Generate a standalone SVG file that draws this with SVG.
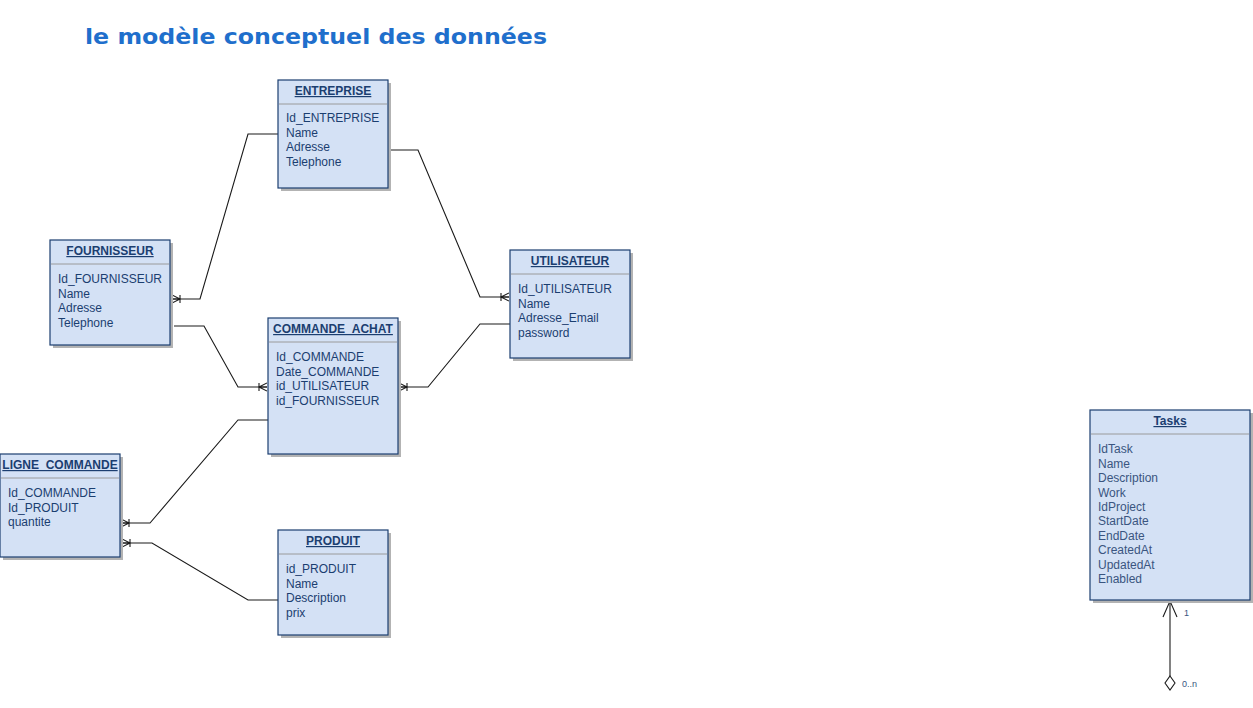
<svg xmlns="http://www.w3.org/2000/svg" width="1253" height="708" viewBox="0 0 1253 708">
<style>
.shadow{fill:#b3b3b3}
.box{fill:#d4e1f5;stroke:#1b3e70;stroke-width:1.2}
.sep{stroke:#9a9a9a;stroke-width:1}
.hdr{font-family:"Liberation Sans",Arial,sans-serif;font-size:12px;font-weight:bold;fill:#1b3e70;text-decoration:underline;text-anchor:middle}
.att{font-family:"Liberation Sans",Arial,sans-serif;font-size:12px;fill:#1b3e70}
.att2{font-family:"Liberation Sans",Arial,sans-serif;font-size:12px;fill:#3a5580}
.conn{fill:none;stroke:#1a1a1a;stroke-width:1.1}
.lbl{font-family:"Liberation Sans",Arial,sans-serif;font-size:9px;fill:#3a5580}
</style>
<defs>
<marker id="crow" viewBox="0 0 10 10" refX="10" refY="5" markerWidth="10" markerHeight="10" markerUnits="userSpaceOnUse" orient="auto">
<path d="M10,1 L2,5 L10,9 M2,5 H10 M2,1 V9" fill="none" stroke="#1a1a1a" stroke-width="1.1"/>
</marker>
</defs>
<rect width="1253" height="708" fill="#ffffff"/>
<text x="85" y="44" font-family="'DejaVu Sans',Verdana,sans-serif" font-size="22" font-weight="bold" fill="#1f6fcc" textLength="462" lengthAdjust="spacingAndGlyphs">le modèle conceptuel des données</text>

<g id="connectors">
<path class="conn" d="M278,134 H248 L200,299 H172" marker-end="url(#crow)"/>
<path class="conn" d="M388,150 H418 L480,297 H509" marker-end="url(#crow)"/>
<path class="conn" d="M174,326 H204 L238,387 H267" marker-end="url(#crow)"/>
<path class="conn" d="M510,324 H480 L428,387 H399" marker-end="url(#crow)"/>
<path class="conn" d="M268,420 H238 L150,523 H121" marker-end="url(#crow)"/>
<path class="conn" d="M278,600 H248 L152,543 H122" marker-end="url(#crow)"/>
<path class="conn" d="M1170,676 V601"/>
<path class="conn" d="M1163,617 L1170,601 L1177,617"/>
<path d="M1170,676 L1175,683 L1170,690 L1165,683 Z" fill="#ffffff" stroke="#1a1a1a" stroke-width="1.1"/>
<text class="lbl" x="1184" y="616">1</text>
<text class="lbl" x="1182" y="687">0..n</text>
</g>

<g id="entreprise">
<rect class="shadow" x="281" y="83" width="110" height="108"/>
<rect class="box" x="278" y="80" width="110" height="108"/>
<line class="sep" x1="279" y1="104" x2="387" y2="104"/>
<text class="hdr" x="333" y="95">ENTREPRISE</text>
<text class="att" x="286" y="122">Id_ENTREPRISE</text>
<text class="att" x="286" y="137">Name</text>
<text class="att" x="286" y="151">Adresse</text>
<text class="att" x="286" y="166">Telephone</text>
</g>

<g id="fournisseur">
<rect class="shadow" x="53" y="243" width="120" height="105"/>
<rect class="box" x="50" y="240" width="120" height="105"/>
<line class="sep" x1="51" y1="264" x2="169" y2="264"/>
<text class="hdr" x="110" y="255">FOURNISSEUR</text>
<text class="att" x="58" y="283">Id_FOURNISSEUR</text>
<text class="att" x="58" y="298">Name</text>
<text class="att" x="58" y="312">Adresse</text>
<text class="att" x="58" y="327">Telephone</text>
</g>

<g id="utilisateur">
<rect class="shadow" x="513" y="253" width="120" height="108"/>
<rect class="box" x="510" y="250" width="120" height="108"/>
<line class="sep" x1="511" y1="274" x2="629" y2="274"/>
<text class="hdr" x="570" y="265">UTILISATEUR</text>
<text class="att" x="518" y="293">Id_UTILISATEUR</text>
<text class="att" x="518" y="308">Name</text>
<text class="att" x="518" y="322">Adresse_Email</text>
<text class="att" x="518" y="337">password</text>
</g>

<g id="commande_achat">
<rect class="shadow" x="271" y="321" width="130" height="136"/>
<rect class="box" x="268" y="318" width="130" height="136"/>
<line class="sep" x1="269" y1="342" x2="397" y2="342"/>
<text class="hdr" x="333" y="333">COMMANDE_ACHAT</text>
<text class="att" x="276" y="361">Id_COMMANDE</text>
<text class="att" x="276" y="376">Date_COMMANDE</text>
<text class="att" x="276" y="390">id_UTILISATEUR</text>
<text class="att" x="276" y="405">id_FOURNISSEUR</text>
</g>

<g id="ligne_commande">
<rect class="shadow" x="3" y="457" width="120" height="103"/>
<rect class="box" x="0" y="454" width="120" height="103"/>
<line class="sep" x1="1" y1="478" x2="119" y2="478"/>
<text class="hdr" x="60" y="469">LIGNE_COMMANDE</text>
<text class="att" x="8" y="497">Id_COMMANDE</text>
<text class="att" x="8" y="512">Id_PRODUIT</text>
<text class="att" x="8" y="526">quantite</text>
</g>

<g id="produit">
<rect class="shadow" x="281" y="533" width="110" height="105"/>
<rect class="box" x="278" y="530" width="110" height="105"/>
<line class="sep" x1="279" y1="554" x2="387" y2="554"/>
<text class="hdr" x="333" y="545">PRODUIT</text>
<text class="att" x="286" y="573">id_PRODUIT</text>
<text class="att" x="286" y="588">Name</text>
<text class="att" x="286" y="602">Description</text>
<text class="att" x="286" y="617">prix</text>
</g>

<g id="tasks">
<rect class="shadow" x="1093" y="413" width="160" height="190"/>
<rect class="box" x="1090" y="410" width="160" height="190"/>
<line class="sep" x1="1091" y1="434" x2="1249" y2="434"/>
<text class="hdr" x="1170" y="425">Tasks</text>
<text class="att2" x="1098" y="453">IdTask</text>
<text class="att2" x="1098" y="468">Name</text>
<text class="att2" x="1098" y="482">Description</text>
<text class="att2" x="1098" y="497">Work</text>
<text class="att2" x="1098" y="511">IdProject</text>
<text class="att2" x="1098" y="525">StartDate</text>
<text class="att2" x="1098" y="540">EndDate</text>
<text class="att2" x="1098" y="554">CreatedAt</text>
<text class="att2" x="1098" y="569">UpdatedAt</text>
<text class="att2" x="1098" y="583">Enabled</text>
</g>
</svg>
